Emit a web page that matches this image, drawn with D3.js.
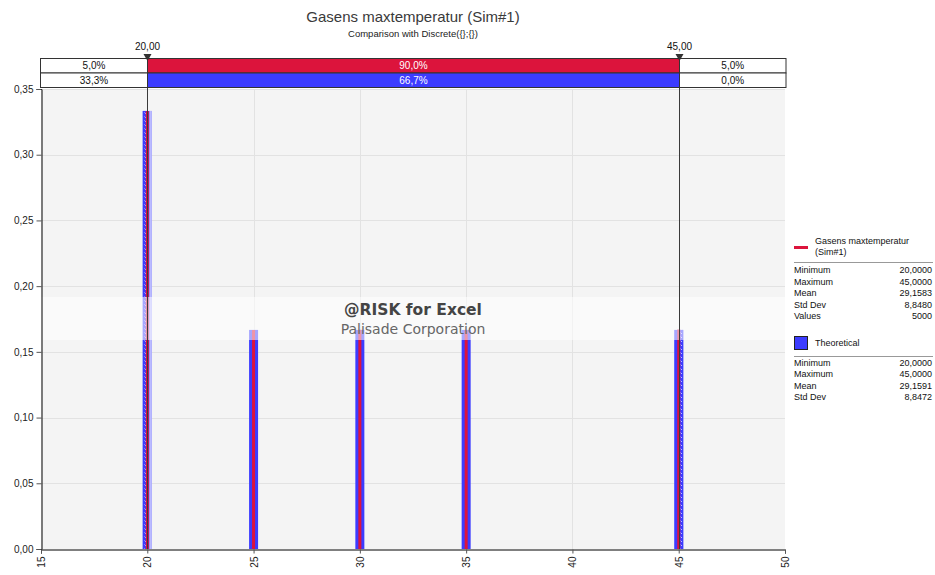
<!DOCTYPE html>
<html>
<head>
<meta charset="utf-8">
<script src="https://cdn.jsdelivr.net/npm/d3@7"></script>
<style>
  html, body { margin: 0; padding: 0; background: #ffffff; }
  svg { display: block; font-family: "Liberation Sans", Arial, sans-serif; }
</style>
</head>
<body>
<svg id="chart" width="935" height="575"></svg>
<script>
// Discrete outcomes and their probabilities
const outcomes = [20, 25, 30, 35, 45];
const theoretical = [0.3333, 0.1667, 0.1667, 0.1667, 0.1667];
const simulated = [0.3332, 0.1666, 0.1668, 0.1664, 0.1670];

// Delimiter markers and the share of probability in each region
const delimiters = [20, 45];
const simShares = ["5,0%", "90,0%", "5,0%"];
const theoShares = ["33,3%", "66,7%", "0,0%"];

// Axis ticks
const xTicks = [15, 20, 25, 30, 35, 40, 45, 50];
const yTicks = [0, 0.05, 0.10, 0.15, 0.20, 0.25, 0.30, 0.35];

// Legend statistics
const simStatNames = ["Minimum", "Maximum", "Mean", "Std Dev", "Values"];
const simStatValues = ["20,0000", "45,0000", "29,1583", "8,8480", "5000"];
const theoStatNames = ["Minimum", "Maximum", "Mean", "Std Dev"];
const theoStatValues = ["20,0000", "45,0000", "29,1591", "8,8472"];

const RED = "#dc143c";
const BLUE = "#3c3cff";

const svg = d3.select("#chart");
const plot = { left: 41, right: 785, top: 89, bottom: 549 };

const x = d3.scaleLinear().domain([15, 50]).range([plot.left, plot.right]);
const y = d3.scaleLinear().domain([0, 0.35]).range([plot.bottom, plot.top]);
const comma = f => v => d3.format(f)(v).replace(".", ",");

// Hatch used for bar parts outside the delimiters
const defs = svg.append("defs");
const hatch = defs.append("pattern")
  .attr("id", "hatch").attr("patternUnits", "userSpaceOnUse")
  .attr("width", 4).attr("height", 4);
hatch.append("rect").attr("width", 4).attr("height", 4).attr("fill", BLUE);
hatch.append("path").attr("d", "M0.5,0.5 L2,2").attr("stroke", "#ffffff")
  .attr("stroke-width", 0.9).attr("opacity", 0.75);

// Plot background
svg.append("rect")
  .attr("x", plot.left).attr("y", plot.top)
  .attr("width", plot.right - plot.left).attr("height", plot.bottom - plot.top)
  .attr("fill", "#f4f4f4");

// Grid
svg.append("g").selectAll("line").data(yTicks.filter(d => d > 0)).join("line")
  .attr("x1", plot.left).attr("x2", plot.right)
  .attr("y1", d => Math.round(y(d)) + 0.5).attr("y2", d => Math.round(y(d)) + 0.5)
  .attr("stroke", "#e2e2e2");
svg.append("g").selectAll("line").data(xTicks.filter(d => d > 15 && d < 50)).join("line")
  .attr("x1", d => Math.round(x(d)) + 0.5).attr("x2", d => Math.round(x(d)) + 0.5)
  .attr("y1", plot.top).attr("y2", plot.bottom)
  .attr("stroke", "#e2e2e2");

// Theoretical bars
const barW = 9;
const bars = svg.append("g");
outcomes.forEach((o, i) => {
  const cx = x(o);
  const x0 = cx - barW / 2, x1 = cx + barW / 2;
  const top = y(theoretical[i]), h = y(0) - y(theoretical[i]);
  bars.append("rect")
    .attr("x", x0).attr("y", top).attr("width", barW).attr("height", h)
    .attr("fill", BLUE);
  const lo = x(delimiters[0]), hi = x(delimiters[1]);
  // hatched part left of the lower delimiter, lighter part right of it
  if (x0 < lo) {
    bars.append("rect")
      .attr("x", x0).attr("y", top)
      .attr("width", Math.min(lo, x1) - x0).attr("height", h)
      .attr("fill", "url(#hatch)");
    if (x1 > lo + 2) {
      bars.append("rect")
        .attr("x", lo + 2).attr("y", top)
        .attr("width", x1 - lo - 2).attr("height", h)
        .attr("fill", "#ffffff").attr("opacity", 0.65);
    }
  }
  // hatched part right of the upper delimiter
  if (x1 > hi) {
    const s = Math.max(hi, x0) + 1.5;
    bars.append("rect")
      .attr("x", s).attr("y", top)
      .attr("width", x1 - s).attr("height", h)
      .attr("fill", "url(#hatch)");
  }
});

// Simulated probabilities as thin red bars
svg.append("g").selectAll("rect").data(outcomes).join("rect")
  .attr("x", d => x(d) - 1.5)
  .attr("y", (d, i) => y(simulated[i]))
  .attr("width", 3)
  .attr("height", (d, i) => y(0) - y(simulated[i]))
  .attr("fill", RED);

// Watermark band
svg.append("rect")
  .attr("x", plot.left).attr("y", 297)
  .attr("width", plot.right - plot.left).attr("height", 43)
  .attr("fill", "#ffffff").attr("opacity", 0.55);
svg.append("text")
  .attr("x", 413).attr("y", 315).attr("text-anchor", "middle")
  .attr("font-family", "DejaVu Sans, sans-serif")
  .attr("font-size", 15.5).attr("font-weight", "bold").attr("fill", "#444")
  .text("@RISK for Excel");
svg.append("text")
  .attr("x", 413).attr("y", 334).attr("text-anchor", "middle")
  .attr("font-family", "DejaVu Sans, sans-serif")
  .attr("font-size", 14).attr("fill", "#666")
  .text("Palisade Corporation");

// Delimiter lines
svg.append("g").selectAll("line").data(delimiters).join("line")
  .attr("x1", d => Math.round(x(d)) + 0.5).attr("x2", d => Math.round(x(d)) + 0.5)
  .attr("y1", 56).attr("y2", plot.bottom)
  .attr("stroke", "#3a3a3a").attr("stroke-width", 1);

// Axes
const yAxis = d3.axisLeft(y).tickValues(yTicks).tickFormat(comma(".2f")).tickSize(5).tickPadding(3);
const gy = svg.append("g").attr("transform", `translate(${plot.left + 0.5},0)`).call(yAxis);
const xAxis = d3.axisBottom(x).tickValues(xTicks).tickFormat(d3.format("d")).tickSize(4).tickPadding(3);
const gx = svg.append("g").attr("transform", `translate(0,${plot.bottom + 0.5})`).call(xAxis);
gx.selectAll("text")
  .attr("transform", "rotate(-90)")
  .attr("text-anchor", "end").attr("dy", "0.35em")
  .attr("x", -7).attr("y", 0);
[gx, gy].forEach(g => {
  g.selectAll("text").attr("font-family", "Liberation Sans, Arial, sans-serif")
    .attr("font-size", 10).attr("fill", "#222");
  g.select(".domain").attr("stroke", "#000");
  g.selectAll(".tick line").attr("stroke", "#555");
});

// Delimiter region table above the plot
const boxL = 40.5, boxR = 786;
const rowY = [58.5, 73];
const rowH = 14.5;
const edges = [boxL, Math.round(x(delimiters[0])) + 0.5, Math.round(x(delimiters[1])) + 0.5, boxR];
const rows = [{ shares: simShares, color: RED }, { shares: theoShares, color: BLUE }];
const table = svg.append("g");
rows.forEach((r, ri) => {
  r.shares.forEach((s, ci) => {
    const colored = ci === 1;
    table.append("rect")
      .attr("x", edges[ci]).attr("y", rowY[ri])
      .attr("width", edges[ci + 1] - edges[ci]).attr("height", rowH)
      .attr("fill", colored ? r.color : "#ffffff")
      .attr("stroke", "#333").attr("stroke-width", 1);
    table.append("text")
      .attr("x", (edges[ci] + edges[ci + 1]) / 2).attr("y", rowY[ri] + rowH / 2)
      .attr("dy", "0.36em").attr("text-anchor", "middle")
      .attr("font-size", 10).attr("fill", colored ? "#ffffff" : "#111")
      .text(s);
  });
});

// Delimiter markers and values
const markers = svg.append("g");
delimiters.forEach(d => {
  const cx = Math.round(x(d)) + 0.5;
  markers.append("path")
    .attr("d", `M${cx - 4},${54} L${cx + 4},${54} L${cx},${61} Z`)
    .attr("fill", "#333");
  markers.append("text")
    .attr("x", cx).attr("y", 50).attr("text-anchor", "middle")
    .attr("font-size", 10).attr("fill", "#111")
    .text(comma(".2f")(d));
});

// Titles
svg.append("text").attr("x", 413).attr("y", 22).attr("text-anchor", "middle")
  .attr("font-size", 15).attr("fill", "#3a3a3a").text("Gasens maxtemperatur (Sim#1)");
svg.append("text").attr("x", 413).attr("y", 37).attr("text-anchor", "middle")
  .attr("font-size", 9.5).attr("fill", "#222").text("Comparison with Discrete({};{})");

// Legend
const lg = svg.append("g").attr("font-size", 9).attr("fill", "#111");
lg.append("line").attr("x1", 794).attr("x2", 808).attr("y1", 247.5).attr("y2", 247.5)
  .attr("stroke", RED).attr("stroke-width", 3);
lg.append("text").attr("x", 815).attr("y", 244).text("Gasens maxtemperatur");
lg.append("text").attr("x", 815).attr("y", 255).text("(Sim#1)");
lg.append("line").attr("x1", 794).attr("x2", 933).attr("y1", 262.5).attr("y2", 262.5)
  .attr("stroke", "#999");
simStatNames.forEach((n, i) => {
  lg.append("text").attr("x", 794).attr("y", 273 + i * 11.5).text(n);
  lg.append("text").attr("x", 932).attr("y", 273 + i * 11.5).attr("text-anchor", "end").text(simStatValues[i]);
});
lg.append("rect").attr("x", 794.5).attr("y", 336.5).attr("width", 13).attr("height", 13)
  .attr("fill", BLUE).attr("stroke", "#222");
lg.append("text").attr("x", 815).attr("y", 346).text("Theoretical");
lg.append("line").attr("x1", 794).attr("x2", 933).attr("y1", 356.5).attr("y2", 356.5)
  .attr("stroke", "#999");
theoStatNames.forEach((n, i) => {
  lg.append("text").attr("x", 794).attr("y", 366 + i * 11.3).text(n);
  lg.append("text").attr("x", 932).attr("y", 366 + i * 11.3).attr("text-anchor", "end").text(theoStatValues[i]);
});
</script>
</body>
</html>
